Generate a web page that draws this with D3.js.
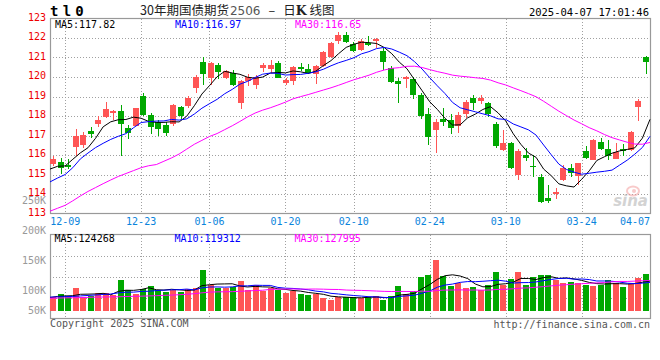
<!DOCTYPE html>
<html><head><meta charset="utf-8">
<script src="https://cdn.jsdelivr.net/npm/d3@7"></script>
<style>html,body{margin:0;padding:0;background:#fff}svg{display:block}</style>
</head><body>
<svg id="c" width="660" height="360"></svg>
<script>
// ---------------- data ----------------
const dates = ["12-05","12-06","12-09","12-10","12-11","12-12","12-13","12-16","12-17","12-18","12-19","12-20","12-23","12-24","12-25","12-26","12-27","12-30","12-31",
"01-02","01-03","01-06","01-07","01-08","01-09","01-10","01-13","01-14","01-15","01-16","01-17","01-20","01-21","01-22","01-23","01-24","01-27",
"02-05","02-06","02-07","02-10","02-11","02-12","02-13","02-14","02-17","02-18","02-19","02-20","02-21","02-24","02-25","02-26","02-27","02-28",
"03-03","03-04","03-05","03-06","03-07","03-10","03-11","03-12","03-13","03-14","03-17","03-18","03-19","03-20","03-21","03-24","03-25","03-26","03-27","03-28","03-31",
"04-01","04-02","04-03","04-07"];
const opens = [115.54,115.66,115.48,116.43,116.51,117.23,117.57,117.96,118.17,118.26,117.38,117.50,119.03,118.03,117.68,117.54,117.59,118.45,118.51,119.42,
120.79,119.95,120.61,119.97,120.19,118.65,119.81,119.59,120.48,120.41,120.72,119.69,119.81,120.50,120.40,120.15,120.57,121.04,121.86,122.15,
121.68,121.38,121.74,121.86,121.33,120.44,119.79,119.90,119.89,119.08,118.10,117.28,117.85,117.79,117.50,118.10,118.94,118.79,118.65,117.59,
116.26,116.63,114.97,116.00,115.45,114.88,113.81,114.00,114.72,115.35,114.90,116.21,115.74,116.68,116.30,115.81,116.31,116.24,118.48,121.04];
const highs = [115.96,115.83,115.80,117.32,117.17,117.42,117.98,118.72,118.30,118.58,117.52,118.42,119.20,118.14,117.80,117.71,118.62,118.51,119.03,120.10,
121.04,120.78,120.70,120.36,120.36,119.85,120.13,120.08,120.74,120.87,120.82,119.93,120.56,120.73,120.65,120.60,121.33,121.80,122.30,122.32,
121.81,121.93,122.12,122.00,121.50,120.58,119.93,120.06,119.98,119.20,118.40,117.86,118.39,118.10,118.19,118.82,119.08,119.08,118.74,117.67,
117.27,116.68,116.30,116.36,116.00,115.02,114.47,114.33,115.50,115.53,115.58,116.45,116.84,116.86,116.78,116.60,116.55,117.24,118.89,121.09];
const lows = [115.42,115.01,115.28,115.96,116.38,116.89,117.43,117.90,117.80,115.96,116.80,117.48,118.00,117.08,116.95,116.97,117.49,117.83,118.39,119.19,
119.59,119.60,119.90,119.92,119.55,118.36,119.55,119.40,120.27,120.20,119.93,119.60,119.60,120.30,120.14,119.65,120.53,121.00,121.70,121.76,
121.27,121.33,121.60,121.50,120.36,119.67,118.68,119.43,118.89,117.85,116.53,116.09,117.50,117.06,117.11,117.88,118.31,118.60,117.97,116.35,
116.20,115.30,114.73,115.70,114.89,113.53,113.52,113.76,114.65,114.89,114.48,115.77,115.72,116.25,115.76,115.78,115.95,116.22,117.75,120.16];
const closes = [115.78,115.35,115.40,116.99,117.03,117.09,117.78,118.34,118.27,117.57,117.14,118.39,118.05,117.45,117.33,117.14,118.56,118.00,118.91,120.02,
120.14,120.72,120.27,120.31,119.59,119.80,119.98,120.00,120.61,120.61,119.97,119.86,120.50,120.39,120.19,120.56,121.30,121.76,122.17,121.81,
121.33,121.85,121.65,121.95,120.79,119.74,119.66,119.98,119.10,118.00,116.90,117.71,117.71,117.37,118.05,118.70,118.65,118.91,118.09,116.45,
116.63,115.35,116.21,115.86,115.36,113.60,113.66,114.12,115.35,115.06,115.58,115.83,116.78,116.30,115.97,116.17,116.20,117.20,118.78,120.79];
const volumes = [58800,70100,61700,95300,58800,61700,74300,74300,65900,128900,
86900,71400,91100,103700,86900,79800,88200,79800,91100,95300,
170900,107900,94100,94100,98300,124700,86900,106700,84000,94100,
86900,75600,84000,70100,65900,68900,54600,44900,56300,58800,
58800,52100,56300,61700,44900,61700,103700,70100,84000,141500,
149900,212900,145700,103700,116300,95300,99500,86900,107900,163800,
107900,133100,163800,107900,141500,149900,149900,128900,117600,121800,
117600,107900,103700,109200,128900,117600,100800,112100,137300,154100];
const ma5Head  = [115.28,115.42,115.44,115.78];
const ma10Head = [114.62,114.82,115.00,115.35,115.80,116.10,116.38,116.60,116.80];
const ma30Head = [113.12,113.27,113.42,113.65,113.90,114.13,114.33,114.53,114.72,114.90,115.05,115.20,115.35,115.45,115.51,
115.68,115.85,116.05,116.30,116.55,116.75,116.95,117.10,117.30,117.50,117.72,117.95,118.15,118.30];
const volMa5Head  = [55000,60000,62000,63000];
const volMa10Head = [57000,58000,59000,60000,62000,64000,66000,68000,70000];
const volMa30Head = [52500,53000,54000,54500,55000,56000,57000,57500,58000,58500,59500,60500,61000,62000,63000,
64500,65500,67000,69000,71500,75000,78000,79000,79500,80000,81500,83000,84500,86000];
const priceMaLabels = ["MA5:117.82","MA10:116.97","MA30:116.65"];
const volMaLabels = ["MA5:124268","MA10:119312","MA30:127995"];
const priceTicks = [113,114,115,116,117,118,119,120,121,122,123];
const volTicks = [250000,200000,150000,100000,50000];
const tickDates = ["12-09","12-23","01-06","01-20","02-10","02-24","03-10","03-24","04-07"];

// ---------------- layout ----------------
const L = 50, R = 650;
const pTop = 18.5, pBot = 213.5;
const vTop = 234.5, vBot = 318.5, vBase = 310.7;
const RED = "#ff5555", GREEN = "#00a800";
const MONO = "'DejaVu Sans Mono', 'Liberation Mono', monospace";
const maColors = ["#000000", "#0000ff", "#ff00ff"];

const svg = d3.select("#c");
const x = d3.scaleBand().domain(dates).range([L, R]);
const xg = d3.scalePoint().domain(dates).range([L, R]);
const y = d3.scaleLinear().domain([113, 123]).range([pBot, pTop]);
const yv = d3.scaleLinear().domain([0, 320000]).range([vBase, vTop]);
const yvLabel = d3.scaleLinear().domain([100000, 250000]).range([290, 200]);

function movingAvg(vals, n, head) {
  return vals.map((v, i) => i < n - 1 ? head[i] : d3.mean(vals.slice(i - n + 1, i + 1)));
}
const pMA = [movingAvg(closes, 5, ma5Head), movingAvg(closes, 10, ma10Head), movingAvg(closes, 30, ma30Head)];
const vMA = [movingAvg(volumes, 5, volMa5Head), movingAvg(volumes, 10, volMa10Head), movingAvg(volumes, 30, volMa30Head)];

const cx = d => x(d) + x.bandwidth() / 2;
const bodyW = 6;

// ---------------- grid ----------------
const grid = svg.append("g").attr("stroke", "#a0a0a0").attr("stroke-dasharray", "1 2").attr("shape-rendering", "crispEdges");
priceTicks.filter(t => t > 113 && t < 123).forEach(t => {
  grid.append("line").attr("x1", L).attr("x2", R).attr("y1", Math.round(y(t)) + 0.5).attr("y2", Math.round(y(t)) + 0.5);
});
d3.range(1, 4).forEach(k => {
  const yy = Math.round(vTop + k * (vBot - vTop) / 4) + 0.5;
  grid.append("line").attr("x1", L).attr("x2", R).attr("y1", yy).attr("y2", yy);
});
tickDates.slice(0, -1).forEach(d => {
  const xx = Math.round(xg(d)) + 0.5;
  grid.append("line").attr("x1", xx).attr("x2", xx).attr("y1", pTop).attr("y2", pBot);
  grid.append("line").attr("x1", xx).attr("x2", xx).attr("y1", vTop).attr("y2", vBot);
});

// ---------------- frames ----------------
svg.append("rect").attr("x", L + 0.5).attr("y", pTop).attr("width", R - L).attr("height", pBot - pTop)
  .attr("fill", "none").attr("stroke", "#999").attr("stroke-width", 1.2);
svg.append("rect").attr("x", L + 0.5).attr("y", vTop).attr("width", R - L).attr("height", vBot - vTop)
  .attr("fill", "none").attr("stroke", "#999").attr("stroke-width", 1.2);

// ---------------- watermark ----------------
const wm = svg.append("g").attr("opacity", 0.55);
wm.append("ellipse").attr("cx", 633).attr("cy", 191).attr("rx", 6).attr("ry", 4.5).attr("fill", "none").attr("stroke", "#f4a0a0").attr("stroke-width", 2);
wm.append("circle").attr("cx", 634).attr("cy", 191).attr("r", 2).attr("fill", "#f4a0a0");
wm.append("text").attr("x", 648).attr("y", 206).attr("text-anchor", "end").attr("font-family", "'DejaVu Sans', sans-serif")
  .attr("font-size", 15).attr("font-weight", "bold").attr("font-style", "italic").attr("fill", "#b0b0b0").text("sina");

// ---------------- candles & volume bars ----------------
const cg = svg.append("g").attr("shape-rendering", "crispEdges");
dates.forEach((d, i) => {
  const up = closes[i] > opens[i];
  const col = up ? RED : GREEN;
  const xc = Math.floor(cx(d));
  cg.append("rect").attr("x", xc).attr("width", 1)
    .attr("y", y(highs[i])).attr("height", Math.max(1, y(lows[i]) - y(highs[i]))).attr("fill", col);
  const top = y(Math.max(opens[i], closes[i])), bot = y(Math.min(opens[i], closes[i]));
  cg.append("rect").attr("x", xc - 3).attr("width", bodyW)
    .attr("y", top).attr("height", Math.max(1, bot - top)).attr("fill", col);
  cg.append("rect").attr("x", xc - 3).attr("width", bodyW)
    .attr("y", yv(volumes[i])).attr("height", vBase - yv(volumes[i])).attr("fill", col);
});

// ---------------- MA lines ----------------
const pLine = d3.line().x((v, i) => xg(dates[i])).y(v => y(v));
const vLine = d3.line().x((v, i) => xg(dates[i])).y(v => yv(v));
pMA.forEach((arr, k) => svg.append("path").attr("d", pLine(arr)).attr("fill", "none").attr("stroke", maColors[k]).attr("stroke-width", 1));
vMA.forEach((arr, k) => svg.append("path").attr("d", vLine(arr)).attr("fill", "none").attr("stroke", maColors[k]).attr("stroke-width", 1));

// ---------------- texts ----------------
const txt = (xx, yy, s, opt = {}) => svg.append("text").attr("x", xx).attr("y", yy)
  .attr("font-family", opt.font || MONO).attr("font-size", opt.size || 10)
  .attr("fill", opt.fill || "#000").attr("text-anchor", opt.anchor || "start")
  .attr("dominant-baseline", "central").attr("font-weight", opt.weight || "normal").text(s);

priceTicks.forEach(t => txt(46, y(t) - 1.5, String(t), { anchor: "end", fill: "#ee0000" }));
volTicks.forEach(v => txt(46, Math.min(310, yvLabel(v)), (v / 1000) + "K", { anchor: "end", fill: "#999" }));
tickDates.forEach(d => {
  const t = txt(0, 221.7, d, { fill: "#0a84dc" });
  const w = t.node().getComputedTextLength();
  const x0 = Math.max(L, Math.min(R - w, xg(d) - w / 2));
  t.attr("x", x0);
});
const legendX = [55, 175, 295];
priceMaLabels.forEach((s, k) => txt(legendX[k], 24, s, { fill: maColors[k] }));
volMaLabels.forEach((s, k) => txt(legendX[k] - 0.5, 238.5, s, { fill: maColors[k] }));

// header
const code = txt(50, 10.5, "tl0", { weight: "bold", size: 14 });
code.attr("letter-spacing", 4.2);
const title = svg.append("text").attr("x", 140).attr("y", 14.5)
  .attr("font-size", 12.5).attr("fill", "#222").attr("font-family", "'Noto Sans CJK SC', sans-serif");
title.append("tspan").text("30年期国债期货");
title.append("tspan").attr("fill", "#555").attr("font-family", "'DejaVu Sans', sans-serif").attr("font-size", 12).attr("dx", 1).text("2506");
title.append("tspan").attr("dx", 8).text("–");
title.append("tspan").attr("dx", 8).text("日");
title.append("tspan").attr("font-weight", "bold").attr("font-family", "'DejaVu Serif', serif").text("K");
title.append("tspan").attr("dx", 3).text("线图");
txt(649, 11.5, "2025-04-07 17:01:46", { anchor: "end", size: 10.5 });

// footer
txt(50, 323.7, "Copyright 2025 SINA.COM", { fill: "#555" });
txt(650, 324, "http://finance.sina.com.cn", { fill: "#555", anchor: "end" });
</script>
</body></html>
